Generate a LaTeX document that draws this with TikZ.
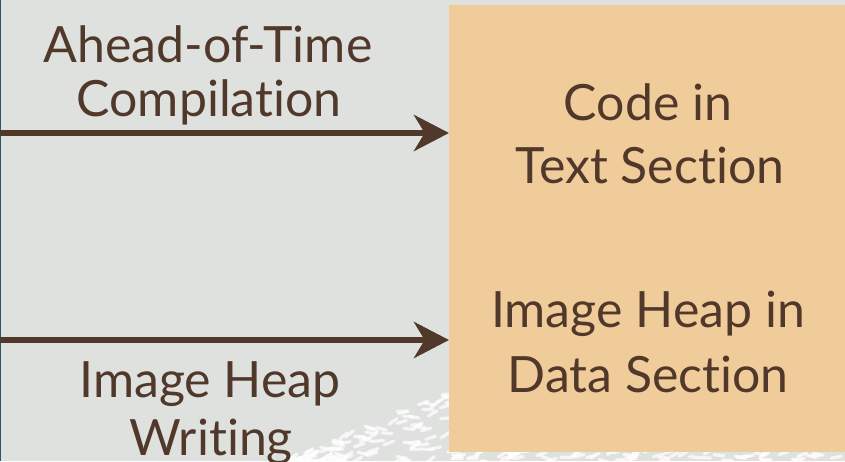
\documentclass[tikz,border=0pt]{standalone}
\usepackage{fontspec}
\setmainfont{Lato}[Ligatures={NoCommon}]
\usetikzlibrary{arrows.meta}
\definecolor{bgray}{RGB}{223,225,223}
\definecolor{sand}{RGB}{241,204,155}
\definecolor{umber}{RGB}{80,56,42}
\definecolor{edge}{RGB}{38,88,106}
\tikzset{
  lbl/.style={anchor=base, inner sep=0pt, text=umber, font=\fontsize{37.5pt}{40pt}\selectfont},
  memblock/.style={fill=sand, draw=none, anchor=north west, inner sep=0pt,
    minimum width=297pt, minimum height=335.25pt},
  flow/.style={draw=umber, line width=4.5pt,
    -{Stealth[length=26.25pt, width=27pt, inset=8pt]}},
  scribble/.style={white, line width=2.4pt, line cap=round, opacity=0.7}
}
\begin{document}
\begin{tikzpicture}[x=0.75pt, y=-0.75pt]
\useasboundingbox (0,0) rectangle (845,461);
\fill[bgray] (0,0) rectangle (845,461);
\fill[edge] (0,0) rectangle (1.3,461);

% textured corner strokes
\pgfmathsetseed{7}
\foreach \i in {1,...,110}{
  \pgfmathsetmacro\xx{285+rnd*175}
  \pgfmathsetmacro\ymin{461-(\xx-285)*0.45}
  \pgfmathsetmacro\yy{\ymin+rnd*(463-\ymin)}
  \pgfmathsetmacro\ang{rnd*60-40}
  \draw[scribble] (\xx,\yy) -- ++(\ang:10);
}
\foreach \i in {1,...,70}{
  \pgfmathsetmacro\xx{449+rnd*400}
  \pgfmathsetmacro\yy{452+rnd*10}
  \pgfmathsetmacro\ang{rnd*60-40}
  \draw[scribble] (\xx,\yy) -- ++(\ang:10);
}

% memory block
\node[memblock] (mem) at (449,5) {};

% labels on the left
\node[lbl] (aot1) at (208,62) {Ahead-of-Time};
\node[lbl] (aot2) at (209,116) {Compilation};
\node[lbl] (ihw1) at (210,397) {Image Heap};
\node[lbl] (ihw2) at (211,455) {Writing};

% labels inside the block
\node[lbl] (txt1) at (648,120) {Code in};
\node[lbl] (txt2) at (650,183) {Text Section};
\node[lbl] (dat1) at (648,327) {Image Heap in};
\node[lbl] (dat2) at (648,392) {Data Section};

% arrows into the block
\coordinate (in1) at (0,133);
\coordinate (in2) at (0,340);
\draw[flow] (in1) -- (in1 -| mem.west);
\draw[flow] (in2) -- (in2 -| mem.west);
\end{tikzpicture}
\end{document}
